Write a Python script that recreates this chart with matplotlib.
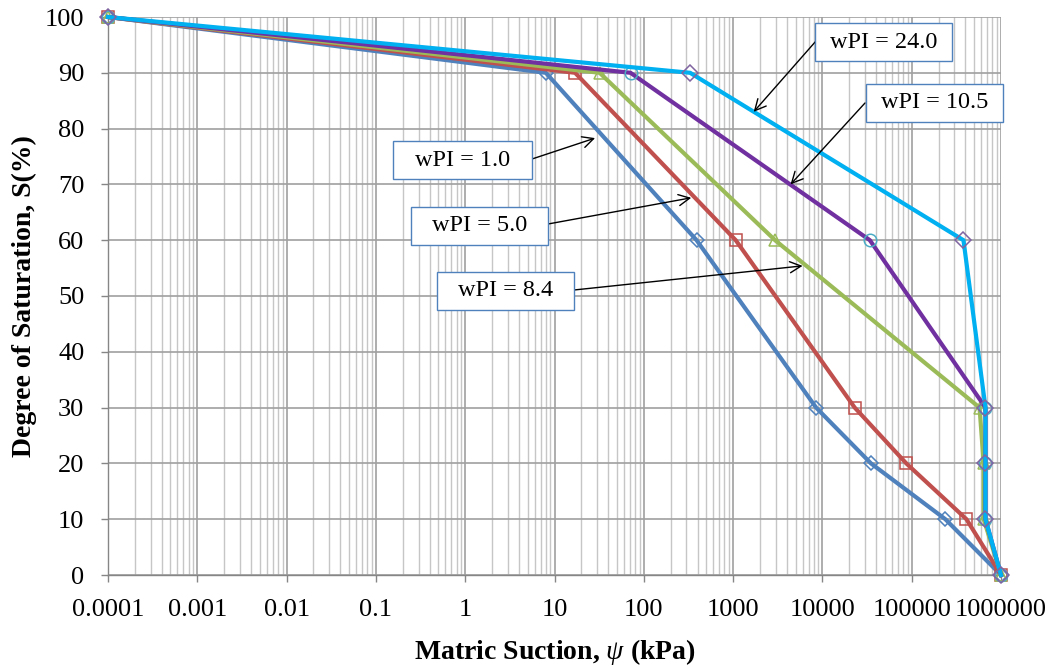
import matplotlib
matplotlib.use("Agg")
import matplotlib.pyplot as plt
from matplotlib.patches import Rectangle
from matplotlib.ticker import FixedLocator, FixedFormatter, LogLocator, NullFormatter

plt.rcParams['font.family'] = ['Liberation Serif', 'DejaVu Serif']
plt.rcParams['mathtext.fontset'] = 'custom'
plt.rcParams['mathtext.rm'] = 'Liberation Serif'
plt.rcParams['mathtext.it'] = 'Liberation Serif:italic'
plt.rcParams['mathtext.bf'] = 'Liberation Serif:bold'

# Data (degree of saturation vs matric suction)
saturation = [100, 90, 60, 30, 20, 10, 0]
suction_wpi_1_0 = [1e-4, 8, 390, 8500, 35000, 238000, 1e6]
suction_wpi_5_0 = [1e-4, 17, 1070, 23000, 87000, 410000, 1e6]
suction_wpi_8_4 = [1e-4, 32, 2950, 575000, 640000, 640000, 1e6]
suction_wpi_10_5 = [1e-4, 71, 34000, 670000, 670000, 670000, 1e6]
suction_wpi_24_0 = [1e-4, 330, 380000, 670000, 670000, 670000, 1e6]

x_tick_values = [1e-4, 1e-3, 1e-2, 1e-1, 1, 10, 100, 1000, 10000, 100000, 1000000]
x_tick_labels = ["0.0001", "0.001", "0.01", "0.1", "1", "10", "100", "1000",
                 "10000", "100000", "1000000"]
y_ticks = [0, 10, 20, 30, 40, 50, 60, 70, 80, 90, 100]

W, H = 1059, 668
fig = plt.figure(figsize=(W / 100, H / 100), dpi=100)
ax = fig.add_axes([108 / W, 1 - 575 / H, (1001 - 108) / W, (575 - 17) / H])

ax.set_xscale('log')
ax.set_xlim(1e-4, 1e6)
ax.set_ylim(0, 100)

spine_c = '#868686'
major_c = '#a0a0a0'
minor_c = '#c6c6c6'
ax.xaxis.set_major_locator(FixedLocator(x_tick_values))
ax.xaxis.set_major_formatter(FixedFormatter(x_tick_labels))
ax.xaxis.set_minor_locator(LogLocator(base=10, subs=range(2, 10), numticks=100))
ax.xaxis.set_minor_formatter(NullFormatter())
ax.set_yticks(y_ticks)

ax.grid(True, which='major', axis='both', color=major_c, linewidth=1.2, zorder=0)
ax.grid(True, which='minor', axis='x', color=minor_c, linewidth=1.0, zorder=0)
ax.set_axisbelow(True)

for s in ['top', 'right']:
    ax.spines[s].set_visible(False)
for s in ['left', 'bottom']:
    ax.spines[s].set_color(spine_c)
    ax.spines[s].set_linewidth(1.0)

ax.tick_params(axis='both', which='major', labelsize=19, color=spine_c, length=5, width=1.0, direction='out')
ax.tick_params(axis='x', which='minor', length=0)
ax.tick_params(axis='x', pad=12)
ax.tick_params(axis='y', pad=12)

series = [
    (suction_wpi_1_0, '#4f81bd', 'D', '#4f81bd', 7),
    (suction_wpi_5_0, '#c0504d', 's', '#c0504d', 9),
    (suction_wpi_8_4, '#9bbb59', '^', '#9bbb59', 9),
    (suction_wpi_10_5, '#7030a0', 'o', '#4bacc6', 9),
    (suction_wpi_24_0, '#00b0f0', 'D', '#8064a2', 8),
]
for xs, lc, mk, mc, ms in series:
    ax.plot(xs, saturation, color=lc, linewidth=3.0, marker=mk, markersize=ms,
            markerfacecolor='none', markeredgecolor=mc, markeredgewidth=1.1,
            clip_on=False, zorder=3)

ax.set_xlabel(r'Matric Suction, $\psi$ (kPa)', fontsize=20, fontweight='bold', labelpad=12)
ax.set_ylabel('Degree of Saturation, S(%)', fontsize=20, fontweight='bold', labelpad=6)

# Callout boxes: (text, arrow target in data, box [x0, x1, y0, y1] in image px, arrow start px)
annots = [
    ('wPI = 24.0', (1700, 83), (815, 952, 23, 61), (816, 41)),
    ('wPI = 10.5', (4400, 70), (866, 1003, 84, 122), (865, 103)),
    ('wPI = 1.0', (28.5, 78.3), (393, 532, 141, 179), (532, 159)),
    ('wPI = 5.0', (340, 67.6), (411, 548, 207, 245), (548, 224)),
    ('wPI = 8.4', (6000, 55.4), (437, 574, 272, 310), (574, 290)),
]
for txt, xy, (x0, x1, y0, y1), (sx, sy) in annots:
    rect = Rectangle((x0 / W, 1 - y1 / H), (x1 - x0) / W, (y1 - y0) / H,
                     transform=fig.transFigure, facecolor='white', edgecolor='#4f81bd',
                     linewidth=1.0, zorder=6)
    fig.patches.append(rect)
    fig.text((x0 + x1) / 2 / W, 1 - (y0 + y1) / 2 / H, txt, ha='center', va='center',
             fontsize=17.5, zorder=7)
    ax.annotate('', xy=xy, xycoords='data', xytext=(sx / W, 1 - sy / H),
                textcoords='figure fraction',
                arrowprops=dict(arrowstyle='->', color='black', linewidth=1.0,
                                mutation_scale=20, shrinkA=0, shrinkB=0),
                zorder=5)

fig.savefig('out.png', dpi=100)
